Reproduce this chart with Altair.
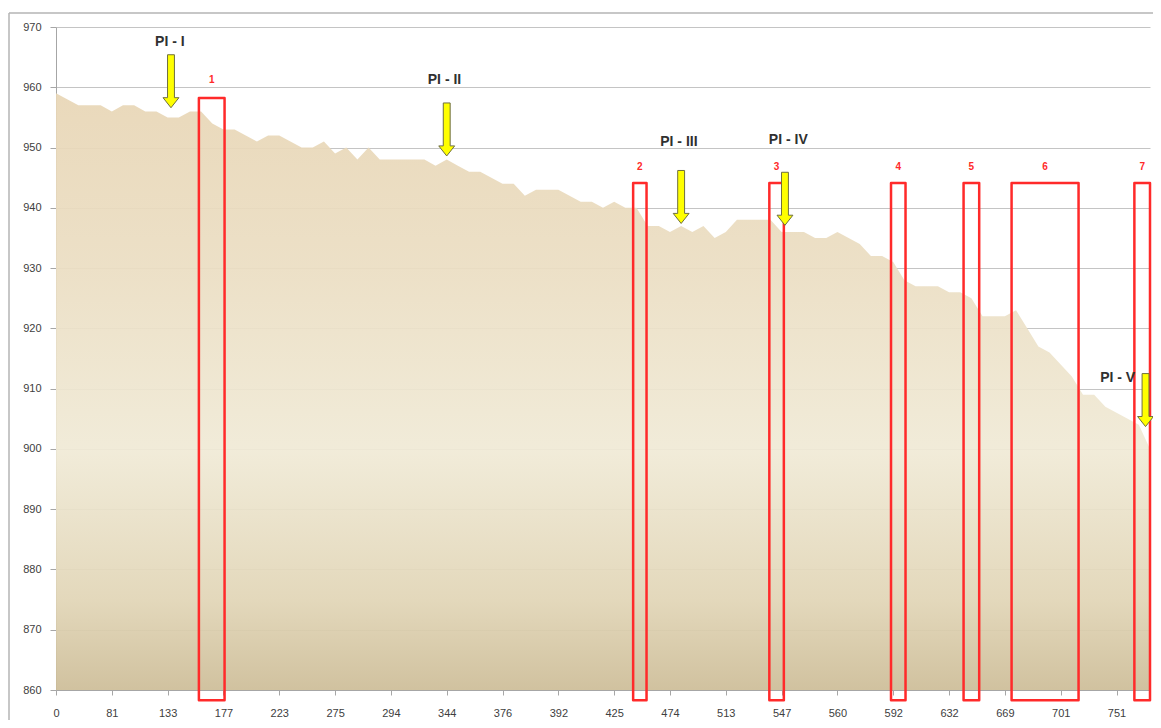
import altair as alt
import pandas as pd

# ---------------- data ----------------
tick_labels = ["0", "81", "133", "177", "223", "275", "294", "344", "376", "392",
               "425", "474", "513", "547", "560", "592", "632", "669", "701", "751"]

elevation = [959, 958, 957, 957, 957, 956, 957, 957, 956, 956,
             955, 955, 956, 956, 954, 953, 953, 952, 951, 952,
             952, 951, 950, 950, 951, 949, 950, 948, 950, 948,
             948, 948, 948, 948, 947, 948, 947, 946, 946, 945,
             944, 944, 942, 943, 943, 943, 942, 941, 941, 940,
             941, 940, 940, 937, 937, 936, 937, 936, 937, 935,
             936, 938, 938, 938, 938, 936, 936, 936, 935, 935,
             936, 935, 934, 932, 932, 931, 928, 927, 927, 927,
             926, 926, 925, 922, 922, 922, 923, 920, 917, 916,
             914, 912, 909, 909, 907, 906, 905, 904, 900]

pi_names = ["PI - I", "PI - II", "PI - III", "PI - IV", "PI - V"]
pi_arrow_x = [10.3, 35.0, 56.0, 65.3, 97.6]
pi_arrow_y = [961.0, 953.0, 941.8, 941.5, 908.1]
pi_label_x = [10.2, 34.8, 55.8, 65.6, 95.1]
pi_label_y = [967.5, 961.2, 951.0, 951.3, 911.8]

box_names = ["1", "2", "3", "4", "5", "6", "7"]
box_x1 = [12.8, 51.7, 63.9, 74.8, 81.3, 85.6, 96.6]
box_x2 = [15.1, 52.9, 65.2, 76.1, 82.7, 91.6, 98.0]
box_top = [958.2, 944.1, 944.1, 944.1, 944.1, 944.1, 944.1]
box_bottom = [858.3, 858.3, 858.3, 858.3, 858.3, 858.3, 858.3]
box_label_y = [961.2, 946.8, 946.8, 946.8, 946.8, 946.8, 946.8]

y_ticks = list(range(860, 971, 10))
x_ticks = [i * 5 for i in range(len(tick_labels))]

# ---------------- tables ----------------
profile = pd.DataFrame({"idx": list(range(len(elevation))), "elev": elevation})
pis = pd.DataFrame({"name": pi_names, "ax": pi_arrow_x, "ay": pi_arrow_y,
                    "lx": pi_label_x, "ly": pi_label_y})
boxes = pd.DataFrame({"name": box_names, "x1": box_x1, "x2": box_x2,
                      "top": box_top, "bottom": box_bottom, "ly": box_label_y,
                      "lx": [(a + b) / 2 for a, b in zip(box_x1, box_x2)]})

label_array = "[" + ",".join("'" + t + "'" for t in tick_labels) + "]"

xscale = alt.Scale(domain=[0, len(elevation) - 1], nice=False, zero=False)
yscale = alt.Scale(domain=[860, 970], nice=False, zero=False)

FONT = "Liberation Sans"

x_axis = alt.Axis(values=x_ticks, labelExpr=label_array + "[round(datum.value/5)]",
                  grid=False, title=None, tickSize=5, labelPadding=12, labelFlush=False,
                  domainColor="#A6A6A6", tickColor="#A6A6A6", labelColor="#404040",
                  labelFont=FONT, labelFontSize=11)
y_axis = alt.Axis(values=y_ticks, grid=True, gridColor="#C4C4C4", gridWidth=1,
                  title=None, tickSize=6, labelPadding=9, labelFlush=False,
                  domainColor="#A6A6A6", tickColor="#A6A6A6", labelColor="#404040",
                  labelFont=FONT, labelFontSize=11)

gradient = alt.Gradient(
    gradient="linear", x1=0, x2=0, y1=0, y2=1,
    stops=[alt.GradientStop(offset=0, color="#E8D6B6"),
           alt.GradientStop(offset=0.3, color="#EBDEC3"),
           alt.GradientStop(offset=0.6, color="#F0EAD6"),
           alt.GradientStop(offset=0.85, color="#E1D5B6"),
           alt.GradientStop(offset=1, color="#CDBD98")])

area = alt.Chart(profile).mark_area(fill=gradient, fillOpacity=0.93).encode(
    x=alt.X("idx:Q", scale=xscale, axis=x_axis),
    y=alt.Y("elev:Q", scale=yscale, axis=y_axis),
    y2=alt.datum(860),
)

rects = alt.Chart(boxes).mark_rect(fill="transparent", stroke="#FF2A2A",
                                   strokeWidth=2.5, strokeJoin="round").encode(
    x=alt.X("x1:Q", scale=xscale), x2="x2:Q",
    y=alt.Y("top:Q", scale=yscale), y2="bottom:Q",
)

box_text = alt.Chart(boxes).mark_text(color="#FF2A2A", fontWeight="bold",
                                      fontSize=10, font=FONT, baseline="middle").encode(
    x=alt.X("lx:Q", scale=xscale), y=alt.Y("ly:Q", scale=yscale), text="name:N")

arrow_path = "M-0.13,-1L0.13,-1L0.13,0.62L0.3,0.62L0,1L-0.3,0.62L-0.13,0.62Z"
arrows = alt.Chart(pis).mark_point(shape=arrow_path, size=2809, filled=True,
                                   fill="#FFFF00", fillOpacity=1, stroke="#6E6E40",
                                   strokeWidth=1, opacity=1).encode(
    x=alt.X("ax:Q", scale=xscale), y=alt.Y("ay:Q", scale=yscale))

pi_text = alt.Chart(pis).mark_text(color="#303030", fontWeight="bold",
                                   fontSize=14, font=FONT, baseline="middle").encode(
    x=alt.X("lx:Q", scale=xscale), y=alt.Y("ly:Q", scale=yscale), text="name:N")

frame_top = alt.Chart(pd.DataFrame({"a": [0]})).mark_rule(color="#B5B5B5", strokeWidth=1.5).encode(
    x=alt.value(-47), x2=alt.value(1100), y=alt.value(-14))
frame_left = alt.Chart(pd.DataFrame({"a": [0]})).mark_rule(color="#B5B5B5", strokeWidth=1.5).encode(
    x=alt.value(-47), y=alt.value(-14), y2=alt.value(720))

chart = alt.layer(area, rects, box_text, arrows, pi_text, frame_top, frame_left).properties(
    width=1094, height=663,
    padding={"left": 48, "top": 19, "right": 3, "bottom": 30},
    autosize=alt.AutoSizeParams(type="none"),
    background="white",
).configure_view(strokeWidth=0)

chart.save("out.html", embed_options={"renderer": "svg", "actions": False})
